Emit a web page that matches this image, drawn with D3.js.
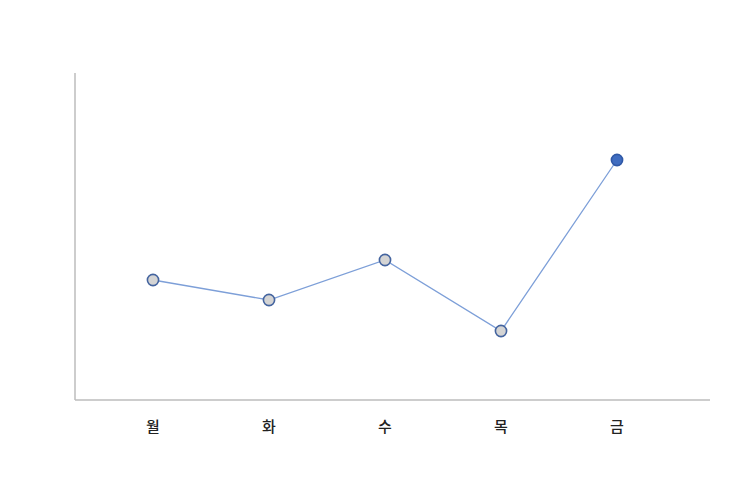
<!DOCTYPE html>
<html>
<head>
<meta charset="utf-8">
<script src="https://cdn.jsdelivr.net/npm/d3@7"></script>
<style>
  body { margin: 0; background: #fff; }
</style>
</head>
<body>
<div id="chart"></div>
<script>
// categories and values
var days = ["월", "화", "수", "목", "금"];
var values = [120, 100, 140, 69, 240];
var highlight = "금";

var width = 747, height = 479;

var svg = d3.select("#chart").append("svg")
  .attr("width", width)
  .attr("height", height);

// plot area
var plotLeft = 75, plotRight = 710, plotTop = 73, plotBottom = 400;

var x = d3.scalePoint()
  .domain(days)
  .range([153, 617]);

var y = d3.scaleLinear()
  .domain([0, 327])
  .range([plotBottom, plotTop]);

var data = days.map(function(d, i) { return {day: d, value: values[i]}; });

// axes lines
svg.append("line")
  .attr("x1", plotLeft).attr("x2", plotLeft)
  .attr("y1", plotTop).attr("y2", plotBottom)
  .attr("stroke", "#bdbdbd").attr("stroke-width", 1.5);

svg.append("line")
  .attr("x1", plotLeft).attr("x2", plotRight)
  .attr("y1", plotBottom).attr("y2", plotBottom)
  .attr("stroke", "#bdbdbd").attr("stroke-width", 1.5);

// category labels
svg.selectAll(".label")
  .data(days)
  .enter().append("text")
  .attr("class", "label")
  .attr("x", function(d) { return x(d); })
  .attr("y", 427)
  .attr("dy", "0.35em")
  .attr("text-anchor", "middle")
  .attr("font-family", "'Noto Sans CJK KR', sans-serif")
  .attr("font-size", 15)
  .attr("font-weight", 500)
  .attr("fill", "#222")
  .text(function(d) { return d; });

// line
var line = d3.line()
  .x(function(d) { return x(d.day); })
  .y(function(d) { return y(d.value); });

svg.append("path")
  .datum(data)
  .attr("d", line)
  .attr("fill", "none")
  .attr("stroke", "#7d9fd8")
  .attr("stroke-width", 1.3);

// points
svg.selectAll(".dot")
  .data(data)
  .enter().append("circle")
  .attr("class", "dot")
  .attr("cx", function(d) { return x(d.day); })
  .attr("cy", function(d) { return y(d.value); })
  .attr("r", 5.6)
  .attr("fill", function(d) { return d.day === highlight ? "#3f6cc0" : "#d4d4d4"; })
  .attr("stroke", function(d) { return d.day === highlight ? "#2f58a6" : "#44649f"; })
  .attr("stroke-width", 1.6);
</script>
</body>
</html>
